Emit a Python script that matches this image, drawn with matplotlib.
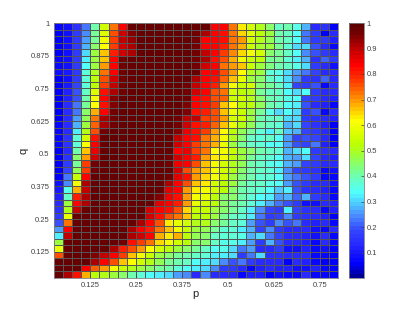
import numpy as np
import matplotlib
matplotlib.use('Agg')
import matplotlib.pyplot as plt
from matplotlib.colors import LinearSegmentedColormap

plt.rcParams['font.family'] = ['Liberation Sans', 'DejaVu Sans']

p_ticks = [0.125, 0.25, 0.375, 0.5, 0.625, 0.75]
p_labels = ['0.125', '0.25', '0.375', '0.5', '0.625', '0.75']
q_ticks = [0.125, 0.25, 0.375, 0.5, 0.625, 0.75, 0.875, 1]
q_labels = ['0.125', '0.25', '0.375', '0.5', '0.625', '0.75', '0.875', '1']
cbar_ticks = [0.1, 0.2, 0.3, 0.4, 0.5, 0.6, 0.7, 0.8, 0.9, 1]
cbar_labels = ['0.1', '0.2', '0.3', '0.4', '0.5', '0.6', '0.7', '0.8', '0.9', '1']

# values in percent, first row is q=1, last row is the bottom of the plot
rows = [
    [7, 8, 15, 22, 40, 55, 72, 84, 97, 98, 98, 98, 98, 98, 98, 97, 97, 84, 83, 72, 64, 55, 50, 44, 38, 40, 35, 27, 14, 15, 6],
    [6, 8, 17, 24, 42, 57, 76, 88, 95, 98, 98, 98, 98, 98, 98, 96, 92, 84, 82, 73, 65, 57, 52, 48, 40, 38, 34, 22, 16, 6, 14],
    [6, 9, 16, 26, 42, 60, 78, 90, 93, 98, 98, 98, 98, 98, 98, 96, 84, 84, 82, 72, 70, 55, 50, 46, 40, 38, 34, 23, 17, 16, 12],
    [5, 9, 16, 28, 44, 62, 78, 88, 92, 98, 98, 98, 98, 98, 98, 96, 84, 84, 80, 72, 68, 54, 49, 47, 42, 37, 30, 30, 20, 14, 7],
    [6, 9, 17, 30, 47, 66, 80, 88, 92, 98, 98, 98, 98, 98, 98, 96, 90, 83, 78, 71, 65, 60, 55, 44, 42, 38, 33, 24, 19, 16, 14],
    [7, 9, 16, 32, 47, 67, 83, 96, 97, 98, 98, 98, 98, 98, 98, 96, 92, 82, 75, 68, 60, 54, 52, 42, 42, 37, 32, 28, 15, 21, 17],
    [7, 9, 16, 34, 47, 70, 84, 96, 97, 98, 98, 98, 98, 98, 98, 96, 88, 84, 72, 69, 66, 54, 48, 43, 40, 38, 35, 30, 17, 14, 8],
    [9, 10, 16, 36, 50, 72, 84, 96, 97, 97, 98, 98, 98, 97, 97, 97, 84, 84, 76, 69, 62, 50, 47, 37, 35, 31, 26, 23, 18, 13, 13],
    [6, 9, 16, 37, 52, 76, 88, 96, 97, 97, 98, 98, 98, 97, 97, 92, 84, 82, 74, 66, 58, 48, 44, 39, 35, 30, 24, 16, 15, 21, 13],
    [6, 10, 18, 37, 52, 78, 90, 96, 97, 97, 97, 98, 98, 97, 96, 90, 84, 80, 70, 60, 54, 55, 44, 42, 38, 32, 18, 16, 20, 7, 14],
    [6, 11, 19, 38, 57, 82, 92, 96, 97, 97, 97, 98, 97, 97, 96, 88, 83, 76, 72, 56, 52, 50, 42, 39, 38, 33, 30, 33, 16, 14, 14],
    [5, 12, 20, 40, 60, 84, 94, 97, 97, 97, 97, 98, 97, 97, 96, 84, 82, 76, 74, 54, 56, 50, 44, 40, 38, 35, 33, 18, 17, 13, 12],
    [6, 13, 22, 42, 62, 82, 94, 97, 97, 97, 97, 97, 97, 97, 95, 83, 82, 78, 66, 62, 52, 52, 46, 40, 38, 34, 32, 20, 14, 12, 7],
    [6, 13, 23, 44, 68, 84, 96, 97, 97, 98, 97, 97, 97, 97, 95, 82, 80, 75, 66, 58, 54, 48, 42, 35, 30, 33, 30, 16, 20, 7, 13],
    [6, 13, 25, 46, 72, 92, 96, 97, 97, 97, 97, 97, 97, 96, 90, 90, 78, 76, 70, 56, 56, 48, 40, 38, 38, 31, 31, 16, 15, 14, 12],
    [7, 13, 28, 47, 74, 92, 96, 97, 97, 97, 97, 97, 97, 96, 88, 82, 80, 74, 66, 58, 50, 46, 40, 38, 36, 28, 31, 18, 15, 12, 6],
    [7, 13, 32, 50, 76, 96, 97, 97, 97, 97, 97, 97, 97, 95, 85, 82, 78, 70, 62, 52, 46, 42, 36, 32, 38, 29, 28, 18, 16, 13, 6],
    [7, 15, 36, 56, 82, 97, 97, 97, 97, 97, 97, 97, 97, 90, 84, 82, 72, 68, 60, 50, 44, 38, 37, 38, 34, 25, 18, 20, 18, 13, 6],
    [7, 15, 36, 62, 83, 97, 97, 97, 97, 97, 97, 97, 97, 88, 83, 78, 72, 68, 58, 48, 42, 38, 36, 34, 33, 25, 19, 18, 22, 12, 6],
    [6, 14, 40, 66, 85, 97, 97, 97, 97, 97, 97, 97, 97, 84, 85, 78, 72, 62, 60, 54, 47, 44, 40, 38, 36, 28, 30, 33, 17, 15, 13],
    [6, 15, 44, 70, 88, 97, 97, 97, 97, 97, 97, 97, 96, 88, 84, 80, 70, 63, 60, 52, 48, 42, 38, 36, 34, 28, 26, 30, 18, 14, 12],
    [5, 17, 42, 78, 96, 97, 97, 97, 97, 97, 97, 97, 96, 85, 84, 76, 66, 60, 56, 50, 46, 40, 38, 35, 34, 27, 26, 18, 16, 13, 14],
    [5, 18, 46, 78, 96, 97, 97, 97, 97, 97, 97, 97, 97, 88, 76, 70, 66, 60, 55, 50, 44, 40, 38, 36, 32, 24, 18, 17, 15, 7, 8],
    [6, 22, 54, 84, 97, 97, 97, 97, 97, 97, 97, 97, 96, 86, 82, 70, 65, 60, 55, 47, 43, 40, 36, 37, 34, 26, 22, 20, 17, 7, 7],
    [8, 24, 60, 92, 97, 97, 97, 97, 97, 97, 97, 97, 92, 84, 76, 66, 63, 56, 52, 47, 42, 38, 38, 35, 34, 26, 20, 17, 14, 13, 8],
    [10, 35, 68, 90, 97, 97, 97, 97, 97, 97, 97, 97, 86, 84, 70, 63, 60, 56, 52, 44, 40, 38, 36, 33, 29, 32, 20, 15, 14, 11, 7],
    [12, 38, 80, 92, 97, 97, 97, 97, 97, 97, 97, 94, 85, 82, 70, 60, 58, 53, 44, 44, 40, 37, 34, 32, 26, 28, 21, 27, 16, 13, 7],
    [14, 47, 84, 92, 97, 97, 97, 97, 97, 97, 97, 86, 84, 80, 70, 58, 56, 52, 45, 42, 40, 36, 32, 28, 22, 20, 17, 8, 8, 13, 12],
    [15, 50, 90, 97, 97, 97, 97, 97, 97, 97, 88, 84, 82, 75, 65, 54, 54, 48, 44, 42, 38, 32, 24, 18, 16, 32, 18, 15, 14, 7, 12],
    [16, 58, 97, 97, 97, 97, 97, 97, 97, 97, 88, 82, 76, 72, 66, 52, 52, 47, 42, 38, 36, 32, 22, 16, 18, 24, 17, 15, 14, 12, 6],
    [20, 72, 97, 97, 97, 97, 97, 97, 97, 92, 83, 76, 64, 58, 56, 50, 50, 45, 42, 38, 36, 26, 20, 17, 24, 20, 22, 14, 12, 14, 7],
    [26, 84, 97, 97, 97, 97, 97, 97, 92, 83, 80, 72, 66, 60, 54, 48, 46, 42, 36, 37, 32, 28, 18, 24, 17, 14, 13, 13, 8, 7, 13],
    [32, 90, 97, 97, 97, 97, 97, 97, 92, 88, 84, 68, 63, 68, 52, 46, 44, 38, 36, 37, 35, 28, 31, 22, 18, 14, 14, 12, 8, 13, 7],
    [48, 97, 97, 97, 97, 97, 97, 96, 82, 78, 72, 65, 60, 56, 52, 45, 44, 38, 35, 35, 32, 25, 16, 28, 20, 14, 14, 12, 7, 14, 7],
    [58, 97, 97, 97, 97, 97, 92, 80, 76, 70, 62, 56, 52, 47, 44, 42, 38, 34, 35, 30, 22, 26, 14, 14, 16, 8, 8, 12, 7, 8, 6],
    [76, 97, 97, 97, 95, 90, 84, 78, 66, 60, 54, 48, 45, 42, 40, 38, 36, 32, 32, 30, 16, 22, 31, 15, 15, 14, 14, 14, 7, 7, 6],
    [97, 97, 97, 97, 92, 84, 76, 66, 62, 56, 50, 46, 42, 40, 38, 34, 32, 30, 24, 20, 22, 16, 13, 14, 13, 6, 13, 12, 7, 6, 6],
    [97, 97, 97, 84, 74, 70, 60, 54, 50, 48, 44, 42, 40, 37, 34, 32, 30, 24, 17, 16, 14, 7, 12, 13, 12, 12, 8, 8, 12, 7, 6],
    [98, 92, 82, 68, 53, 50, 47, 44, 40, 37, 33, 32, 31, 26, 24, 14, 24, 14, 13, 13, 7, 12, 12, 6, 8, 7, 7, 13, 7, 7, 6],
]

p_edges = np.linspace(0.025, 0.8, 32)
q_edges = np.linspace(0.025, 1, 40)
vals = np.array(rows)[::-1] / 100.0

cmap = LinearSegmentedColormap.from_list('jetlike', [
    (0.0, (0, 0, 0.6)),
    (0.05, (0, 0, 1)),
    (0.12, (0.15, 0.15, 1)),
    (0.18, (0.2, 0.27, 1)),
    (0.23, (0.28, 0.5, 1)),
    (0.28, (0.31, 0.75, 1)),
    (0.33, (0.31, 1, 1)),
    (0.38, (0.4, 1, 0.78)),
    (0.43, (0.5, 1, 0.5)),
    (0.48, (0.62, 1, 0.22)),
    (0.53, (0.75, 1, 0)),
    (0.62, (1, 1, 0)),
    (0.70, (1, 0.6, 0)),
    (0.78, (1, 0.22, 0)),
    (0.84, (1, 0, 0)),
    (0.90, (0.78, 0, 0)),
    (0.96, (0.47, 0, 0)),
    (1.0, (0.36, 0, 0)),
], N=64)

fig = plt.figure(figsize=(4.15, 3.12), dpi=100)
ax = fig.add_axes([53.5 / 415, 1 - 278 / 312, (338 - 53.5) / 415, 255 / 312])
mesh = ax.pcolormesh(p_edges, q_edges, vals, cmap=cmap, vmin=0, vmax=1,
                     edgecolors='#555555', linewidth=0.6)
ax.set_xticks(p_ticks)
ax.set_xticklabels(p_labels)
ax.set_yticks(q_ticks)
ax.set_yticklabels(q_labels)
ax.tick_params(labelsize=5.5, length=2, width=0.5, direction='in', colors='#404040', pad=3)
ax.set_xlabel('p', fontsize=8, labelpad=0, color='#222222')
ax.set_ylabel('q', fontsize=8, labelpad=1, color='#222222')
for s in ax.spines.values():
    s.set_color('#808080')
    s.set_linewidth(0.6)

cax = fig.add_axes([349 / 415, 1 - 278 / 312, 15 / 415, 255 / 312])
cb = fig.colorbar(mesh, cax=cax)
cb.set_ticks(cbar_ticks)
cb.set_ticklabels(cbar_labels)
cb.ax.tick_params(labelsize=5.5, length=2, width=0.5, direction='in', colors='#404040', pad=2)
cb.outline.set_edgecolor('#808080')
cb.outline.set_linewidth(0.6)

fig.savefig('out.png', dpi=100)
